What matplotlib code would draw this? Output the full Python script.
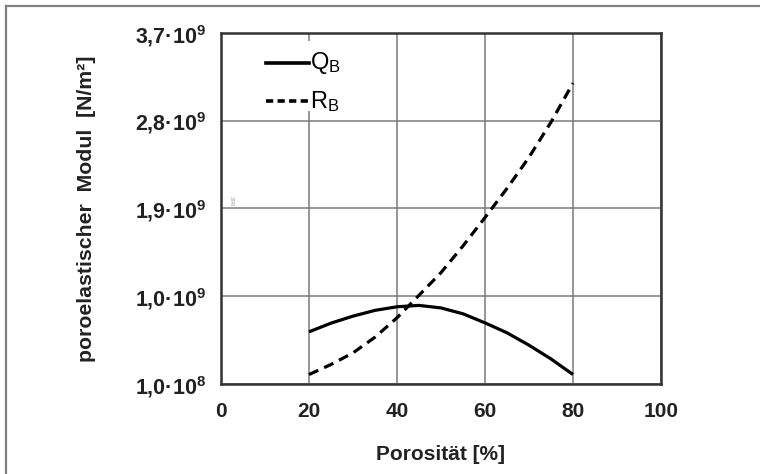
import matplotlib
matplotlib.use('Agg')
from matplotlib import pyplot as plt
from matplotlib.lines import Line2D
from matplotlib.patches import Rectangle

plt.rcParams['font.family'] = ['Liberation Sans', 'DejaVu Sans']
plt.rcParams['mathtext.fontset'] = 'custom'
plt.rcParams['mathtext.rm'] = 'Liberation Sans'
plt.rcParams['mathtext.bf'] = 'Liberation Sans:bold'

# Porosität [%]
porositaet = [20, 25, 30, 35, 40, 45, 50, 55, 60, 65, 70, 75, 80]
# poroelastische Moduln [N/m²]
q_b = [0.635e9, 0.724e9, 0.796e9, 0.855e9, 0.892e9, 0.906e9, 0.880e9,
       0.820e9, 0.727e9, 0.625e9, 0.498e9, 0.357e9, 0.197e9]
r_b = [0.197e9, 0.300e9, 0.419e9, 0.580e9, 0.779e9, 1.010e9, 1.242e9,
       1.516e9, 1.807e9, 2.106e9, 2.425e9, 2.785e9, 3.186e9]

x_ticks = [0, 20, 40, 60, 80, 100]
y_ticks = [1.0e8, 1.0e9, 1.9e9, 2.8e9, 3.7e9]
y_tick_labels = [r'$\mathbf{1{,}0·10^{8}}$', r'$\mathbf{1{,}0·10^{9}}$',
                 r'$\mathbf{1{,}9·10^{9}}$', r'$\mathbf{2{,}8·10^{9}}$',
                 r'$\mathbf{3{,}7·10^{9}}$']

fig = plt.figure(figsize=(7.6, 4.74), dpi=100)

# äußerer Rahmen (nur oben und links sichtbar)
fig.add_artist(Line2D([6 / 760, 6 / 760], [0, 1 - 6 / 474], color='#808080', lw=1.6))
fig.add_artist(Line2D([6 / 760, 1], [1 - 6 / 474, 1 - 6 / 474], color='#808080', lw=1.6))

ax = fig.add_axes([0.2908, 0.1899, 0.5789, 0.7405])
ax.plot(porositaet, q_b, color='black', lw=2.3, solid_capstyle='butt', zorder=3)
ax.plot(porositaet, r_b, color='black', lw=2.3, dashes=(3.2, 2.0), zorder=3)

ax.set_xlim(0, 100)
ax.set_ylim(1.0e8, 3.7e9)
ax.set_xticks(x_ticks)
ax.set_xticklabels([str(t) for t in x_ticks], fontsize=15, fontweight='bold', color='#222222')
ax.set_yticks(y_ticks)
ax.set_yticklabels(y_tick_labels, fontsize=15.5, color='#222222')
ax.tick_params(axis='x', length=0, pad=13)
ax.tick_params(axis='y', length=0, pad=11)
ax.grid(True, color='#7a7a7a', lw=1.1)
ax.set_axisbelow(True)
for s in ax.spines.values():
    s.set_linewidth(1.8)
    s.set_color('#333333')

ax.set_xlabel('Porosität [%]', fontsize=15, fontweight='bold', color='#222222', labelpad=17)
ax.set_ylabel('poroelastischer  Modul  [N/m²]', fontsize=15.3, fontweight='bold',
              color='#222222', labelpad=28)

# Legende mit weißem Hintergrund
ax.add_patch(Rectangle((9, 2.9e9), 22, 0.72e9, facecolor='white', edgecolor='none', zorder=2))
ax.plot([10.3, 20.0], [3.39e9, 3.39e9], color='black', lw=2.6, zorder=3)
ax.plot([10.3, 20.0], [3.0e9, 3.0e9], color='black', lw=2.6, dashes=(2.0, 1.2), zorder=3)
ax.text(20.3, 3.39e9, r'$\mathrm{Q_B}$', fontsize=17, va='center', ha='left', zorder=4)
ax.text(20.3, 3.0e9, r'$\mathrm{R_B}$', fontsize=17, va='center', ha='left', zorder=4)

# kleine Randnotiz
ax.text(2.4, 1.97e9, '298', fontsize=4.5, color='#aaaaaa', rotation=-90, ha='center', va='center')

fig.savefig('out.png', dpi=100)
